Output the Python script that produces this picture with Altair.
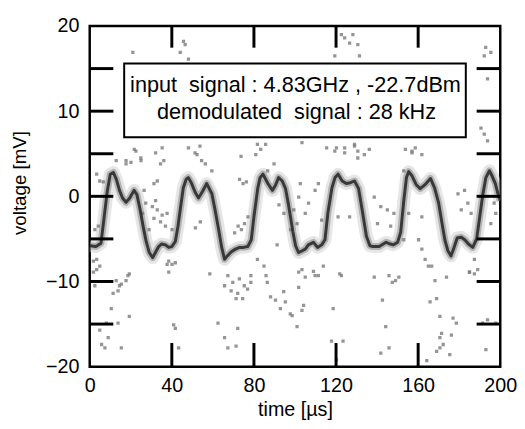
import altair as alt
import pandas as pd

# ---- main demodulated trace (time in µs, voltage in mV) ----
trace_t = [0, 3, 5.5, 7, 8.5, 10, 11.5, 13, 14.5, 16, 17.7, 19.5, 21.6, 23, 24.5, 26, 27.5, 29,
           30.7, 32, 33.6, 35, 36.9, 38.5, 40, 41.7, 43, 44.3, 45.6, 47, 48, 49.5, 51.3, 53, 55,
           57, 59.5, 61, 62.8, 64.3, 65.7, 67, 69, 71, 73, 75, 77, 78.7, 80, 81.9, 83, 84.4,
           86.8, 89, 90.5, 92, 93.8, 95.4, 96.7, 97.8, 99, 100.3, 101.7, 103.5, 105, 106.5, 109,
           111, 113, 114.6, 116, 118, 119.5, 121, 123, 125, 127, 129, 131, 133, 134.8, 136.5,
           138, 141, 144.4, 146.5, 148, 150, 151.5, 153, 154.3, 155.4, 157, 159, 161, 163.5, 166,
           168, 170, 171.5, 173, 174.5, 176, 177.5, 179, 181, 182.7, 184.5, 186.6, 188.5, 190,
           191.5, 193, 194.7, 196, 197.6, 199, 200]
trace_v = [-5.8, -5.9, -5.5, -2.5, 0.5, 2.6, 2.8, 2.0, 0.7, -0.2, -0.7, -0.2, 0.7, 0.2, -1.5, -3.5,
           -5.3, -6.6, -7.2, -6.6, -5.9, -5.6, -5.7, -6.0, -5.9, -5.3, -3.5, -1.2, 1.0, 2.0, 2.2,
           1.6, 0.5, -0.2, 0.6, 1.5, 0.3, -1.5, -3.9, -6.0, -7.4, -7.0, -6.5, -6.2, -6.0, -6.0,
           -5.9, -5.1, -2.4, 1.0, 2.2, 2.6, 1.5, 0.7, 1.3, 2.2, 1.8, 0.9, -0.8, -2.4, -4.2, -5.8,
           -6.6, -6.4, -6.2, -5.7, -5.4, -6.0, -5.7, -5.1, -2.0, 1.0, 2.2, 2.6, 1.8, 1.5, 1.6, 1.8,
           0.9, -2.0, -4.7, -5.8, -5.9, -5.9, -5.4, -5.6, -5.7, -5.4, -4.2, -0.5, 2.2, 2.9, 2.4,
           1.4, 0.9, 1.4, 2.1, 1.0, -0.8, -3.0, -5.1, -6.4, -7.0, -6.0, -4.9, -4.8, -5.1, -5.6,
           -6.0, -5.0, -2.4, 0.2, 2.2, 3.0, 2.4, 1.5, 0.2, -0.5]

# ---- scattered samples ----
lower_pts = [(19.3, -9.1), (17.7, -9.9), (15.4, -10.3), (13.8, -11.1), (11.4, -11.4), (12.9, -9.9),
             (10.5, -13.2), (19.3, -14.1), (8.1, -14.9), (13.8, -14.9), (4.9, -15.7), (9.0, -16.6),
             (5.8, -17.4), (7.4, -17.8), (15.4, -17.8), (40.9, -15.1), (41.7, -15.5), (43.3, -17.8),
             (37.7, -8.0), (40.1, -8.0), (38.5, -8.9), (58.5, -9.1), (62.5, -14.9), (65.7, -16.6),
             (67.3, -17.8), (71.3, -17.6), (72.1, -15.5), (67.3, -9.3), (69.7, -10.1), (72.9, -9.7),
             (75.3, -10.5), (68.9, -11.1), (72.1, -11.4), (76.9, -10.9), (78.5, -10.1), (74.5, -12.0),
             (71.3, -12.0), (78.5, -9.3), (65.7, -10.5), (81.7, -7.4), (84.9, -8.2), (86.5, -10.1),
             (88.1, -11.8), (90.5, -12.2), (92.9, -13.2), (95.3, -12.4), (94.5, -11.2), (97.7, -13.8),
             (91.3, -5.7), (1.8, -8.9), (2.5, -10.5), (3.4, -7.4), (4.9, -8.2)]
lower_pts2 = [(101.8, -8.9), (105, -9.5), (101.8, -10.7), (109, -8.8), (111.4, -9.3), (121.8, -9.1),
              (113.8, -8.2), (104.2, -12.8), (103.4, -13.4), (98.6, -14.0), (101, -15.3), (118.6, -13.2),
              (117.8, -17.0), (123.4, -17.0), (120.2, -19.2), (138.6, -9.5), (145.8, -9.3), (149, -9.9),
              (147.4, -10.1), (150.6, -9.5), (142.6, -12.2), (144.2, -15.3), (145.8, -17.8), (141.8, -18.4),
              (165, -8.2), (168.2, -9.9), (165.8, -12.4), (169, -12.0), (170.6, -14.1), (177, -14.3),
              (178.6, -14.9), (171.4, -16.1), (170.6, -16.6), (172.2, -17.4), (170.6, -17.8), (169, -18.2),
              (175.4, -18.6), (176.2, -16.3), (164.2, -19.3), (173.8, -9.5), (185, -8.9), (187.4, -9.1),
              (193.8, -14.5), (197.8, -14.9), (191.4, -14.9), (193, -18.0)]
upper_pts = [(45.7, 18.2), (46.5, 17.8), (44.1, 16.9), (21, 16.9), (48.1, 16.1), (21.7, 5.5), (35.3, 5.7),
             (32.1, 5.1), (48.1, 5.7), (51.3, 5.1), (53.7, 5.9), (54.5, 4.2), (81.7, 6.1), (83.3, 5.5),
             (85.7, 6.1), (80.9, 4.9), (73.7, 4.7), (12.9, 4.2), (17.7, 4.2), (24.9, 4.5), (36.1, 4.2),
             (122.6, 19.0), (124.2, 18.6), (126.6, 18.0), (128.2, 19.0), (130.6, 17.8), (119.4, 16.5),
             (131.4, 16.5), (192.9, 17.5), (195.4, 16.9), (192.2, 16.5), (193.8, 13.8), (190.6, 8.0),
             (192.2, 7.3), (120.2, 5.7), (124.2, 5.1), (129, 5.9), (130.6, 5.3), (133.8, 4.9),
             (136.2, 5.5), (115.4, 5.7), (153.8, 5.5), (157, 5.1), (158.6, 5.7), (103.4, 6.3)]
middle_pts = [(30.5, -1.2), (32.9, -1.6), (31.3, -2.6), (34.5, -3.0), (35.3, -2.2), (37.7, -2.0),
              (32.1, -0.5), (32.9, 1.8), (34.5, 3.8), (31.3, 1.5), (36.9, -3.5), (40.1, -3.9),
              (38.5, -7.6), (41.7, -7.8), (22.5, 5.3), (25, 4.2), (17.7, 3.8), (20.1, 4.0), (3.4, 2.6),
              (4.9, 1.8), (6.6, 1.7), (2.5, -3.9), (4.2, -3.5), (1.8, -7.6), (3.4, -8.6), (14.5, -10.5),
              (18.6, -9.3), (27.3, -0.8), (26.5, 0.7), (25.8, -2.0), (28.9, -3.9),
              (72.3, -3.5), (73.9, -3.9), (75.4, -3.2), (70.6, -4.3), (77.1, -2.4), (74.7, 1.5),
              (76.3, 1.7), (73, 2.0), (52.3, 4.9), (56.3, 3.8), (59.5, 3.0), (51.5, -3.7), (53.9, -3.0),
              (86.7, 3.0), (89.8, 3.8), (92.2, -1.0), (94.6, -2.0), (97.8, -3.9), (99.4, -1.6),
              (101, -3.2), (85.9, -9.3)]
middle_pts2 = [(119.4, 5.3), (124.2, 5.7), (129, 6.1), (130.6, 4.5), (121, -2.4), (126.6, -2.4),
               (138.6, -0.1), (141.8, -1.2), (145, -1.6), (148.2, -2.0), (140.2, -3.2), (146.6, -3.5),
               (101.8, -0.1), (106.6, -0.8), (109.8, 0.7), (111.4, 1.5), (105, -2.0), (113, -2.8),
               (103.4, -8.6), (109.8, -9.3), (102.6, 1.5), (122.6, -9.3),
               (179.4, 0.3), (182.6, 0.7), (184.2, -0.8), (181, -1.6), (185.8, -2.0), (161.8, -2.4),
               (160.2, -5.1), (161.8, -6.2), (163.4, -7.4), (166.6, -8.2), (153, 3.0), (157, 5.3),
               (161.8, 4.9), (155.4, -2.0), (153, -5.1), (187.4, -7.4), (189, -8.6), (185, -8.9),
               (193.8, 6.5), (197, -0.8), (197.8, -2.0), (195.4, -3.2)]

x_label_values = [0, 40, 80, 120, 160, 200]
y_label_values = [-20, -10, 0, 10, 20]
x_tick_values = [40, 80, 120, 160]
y_tick_values = [-15, -10, -5, 0, 5, 10, 15]
box_line1 = "input\u00a0 signal : 4.83GHz , -22.7dBm"
box_line2 = "demodulated\u00a0 signal : 28 kHz"

W, H = 417, 346
FONT = "Liberation Sans"

trace_df = pd.DataFrame({"t": trace_t, "v": trace_v})
pts = lower_pts + lower_pts2 + upper_pts + middle_pts + middle_pts2
noise_df = pd.DataFrame({"t": [p[0] for p in pts], "v": [p[1] for p in pts]})
xt_df = pd.DataFrame({"t": x_tick_values})
yt_df = pd.DataFrame({"v": y_tick_values})
one = pd.DataFrame({"t": [0.0], "v": [0.0]})

xs = alt.Scale(domain=[0, 200], nice=False, zero=False)
ys = alt.Scale(domain=[-20, 20], nice=False, zero=False)

x_axis = alt.Axis(values=x_label_values, title="time [µs]", ticks=False, domain=False, grid=False,
                  labelPadding=9, titlePadding=5, labelFontSize=20, titleFontSize=20,
                  labelFont=FONT, titleFont=FONT, labelColor="black", titleColor="black",
                  titleFontWeight="normal", labelFlush=False)
y_axis = alt.Axis(values=y_label_values, title="voltage [mV]", ticks=False, domain=False, grid=False,
                  labelPadding=11, titlePadding=16, labelFontSize=20, titleFontSize=19,
                  labelFont=FONT, titleFont=FONT, labelColor="black", titleColor="black",
                  titleFontWeight="normal", labelFlush=False, titleY=159)

X = alt.X("t:Q", scale=xs, axis=x_axis, title="time [µs]")
Y = alt.Y("v:Q", scale=ys, axis=y_axis, title="voltage [mV]")

halo = alt.Chart(trace_df).mark_line(color="#c8c8c8", strokeWidth=13, opacity=0.45, clip=True,
                                     strokeJoin="round").encode(x=X, y=Y, order="t:Q")
mid = alt.Chart(trace_df).mark_line(color="#808080", strokeWidth=7, opacity=0.5, clip=True,
                                    strokeJoin="round").encode(x=X, y=Y, order="t:Q")
core = alt.Chart(trace_df).mark_line(color="#2a2a2a", strokeWidth=3, opacity=0.9, clip=True,
                                     strokeJoin="round").encode(x=X, y=Y, order="t:Q")
noise = alt.Chart(noise_df).mark_square(size=11, color="#7a7a7a", opacity=0.8, clip=True).encode(
    x=X, y=Y)

TL = 24
left_ticks = alt.Chart(yt_df).mark_rule(color="black", strokeWidth=3).encode(
    y=Y, x=alt.value(0), x2=alt.value(TL))
right_ticks = alt.Chart(yt_df).mark_rule(color="black", strokeWidth=3).encode(
    y=Y, x=alt.value(W - TL), x2=alt.value(W))
bottom_ticks = alt.Chart(xt_df).mark_rule(color="black", strokeWidth=3).encode(
    x=X, y=alt.value(H - TL), y2=alt.value(H))
top_ticks = alt.Chart(xt_df).mark_rule(color="black", strokeWidth=3).encode(
    x=X, y=alt.value(0), y2=alt.value(TL - 2))

box = alt.Chart(one).mark_rect(fill="white", stroke="black", strokeWidth=2).encode(
    x=alt.value(35), x2=alt.value(382), y=alt.value(38), y2=alt.value(113))
txt1 = alt.Chart(one).mark_text(font=FONT, fontSize=22, color="black", align="center",
                                baseline="middle").encode(
    x=alt.value(209), y=alt.value(60), text=alt.value(box_line1))
txt2 = alt.Chart(one).mark_text(font=FONT, fontSize=22, color="black", align="center",
                                baseline="middle").encode(
    x=alt.value(210), y=alt.value(87), text=alt.value(box_line2))

chart = alt.layer(halo, mid, noise, core, left_ticks, right_ticks, bottom_ticks, top_ticks,
                  box, txt1, txt2).properties(
    width=W, height=H, autosize="none",
    padding={"left": 83, "top": 15, "right": 17, "bottom": 57}
).configure_view(stroke="black", strokeWidth=2.5)

chart.save("out.html", embed_options={"renderer": "svg", "actions": False})
